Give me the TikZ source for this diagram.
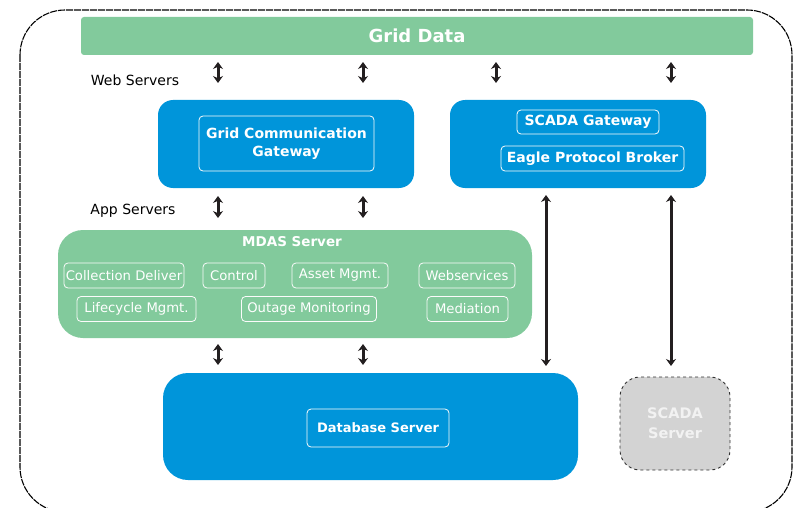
\documentclass[tikz,border=0pt]{standalone}
\usepackage{fontspec}
\setmainfont{DejaVu Sans}
\usetikzlibrary{arrows.meta}

\definecolor{gridgreen}{HTML}{82CA9C}
\definecolor{serverblue}{HTML}{0095DA}
\definecolor{scadagrey}{HTML}{D3D3D3}
\definecolor{arrowblack}{HTML}{231F20}

\tikzset{
    layerbox/.style={rounded corners=15pt, inner sep=0pt},
    innerbox/.style={draw=white!85!black!10, rounded corners=4pt, line width=0.8pt,
        text=white, inner sep=0pt, align=center},
    modbox/.style={innerbox, minimum height=25pt, font=\fontsize{13.2}{15}\selectfont},
    updown/.style={{Stealth[length=7pt,width=10pt]}-{Stealth[length=7pt,width=10pt]},
        line width=3pt, arrowblack},
}

\begin{document}
\begin{tikzpicture}[x=1pt,y=-1pt]
    \useasboundingbox (0,0) rectangle (797,508);

    % outer frame
    \draw[line width=1.1pt, dash pattern=on 7pt off 1pt, rounded corners=45pt]
        (20,10) rectangle (792,512);

    % grid data bar
    \node[fill=gridgreen, rounded corners=3pt, minimum width=672pt, minimum height=38pt,
        text=white, font=\fontsize{18}{20}\selectfont\bfseries] (griddata) at (417,36) {Grid Data};

    \node[font=\fontsize{14}{16}\selectfont] (weblabel) at (135,80) {Web Servers};
    \node[font=\fontsize{14}{16}\selectfont] (applabel) at (133,211) {App Servers};

    % web servers
    \node[layerbox, fill=serverblue, minimum width=256pt, minimum height=88pt] (gcgbox) at (286,144) {};
    \node[layerbox, fill=serverblue, minimum width=256pt, minimum height=88pt] (scadabox) at (578,144) {};

    \node[innerbox, minimum width=175pt, minimum height=55pt, font=\fontsize{14}{18}\selectfont\bfseries]
        (gcg) at (286.5,143.5) {Grid Communication\\Gateway};
    \node[innerbox, minimum width=142pt, minimum height=24pt, font=\fontsize{14}{16}\selectfont\bfseries]
        (scadagw) at (588,122) {SCADA Gateway};
    \node[innerbox, minimum width=183pt, minimum height=25pt, font=\fontsize{14}{16}\selectfont\bfseries]
        (eagle) at (592.5,158.5) {Eagle Protocol Broker};

    % app server
    \node[layerbox, rounded corners=25pt, fill=gridgreen, minimum width=474pt, minimum height=108pt]
        (mdas) at (295,284) {};
    \node[text=white, font=\fontsize{13.5}{15}\selectfont\bfseries] (mdastitle) at (292,242) {MDAS Server};

    \node[modbox, minimum width=120pt] (collect) at (124,275.5) {Collection Deliver};
    \node[modbox, minimum width=62pt] (control) at (234,275.5) {Control};
    \node[modbox, minimum width=96pt] (asset) at (340,275.5) {Asset Mgmt.};
    \node[modbox, minimum width=96pt] (websvc) at (467,275.5) {Webservices};
    \node[modbox, minimum width=119pt] (lifecycle) at (136.5,309) {Lifecycle Mgmt.};
    \node[modbox, minimum width=135pt] (outage) at (309,309) {Outage Monitoring};
    \node[modbox, minimum width=81pt] (mediation) at (467.5,309) {Mediation};

    % database and scada server
    \node[layerbox, rounded corners=25pt, fill=serverblue, minimum width=415pt, minimum height=107pt]
        (dbbox) at (370.5,426.5) {};
    \node[innerbox, minimum width=142pt, minimum height=38pt, font=\fontsize{13}{15}\selectfont\bfseries]
        (db) at (378,428) {Database Server};
    \node[layerbox, rounded corners=20pt, fill=scadagrey, draw=black!80, dashed, line width=0.9pt,
        minimum width=110pt, minimum height=93pt, text=white!95!black, align=center,
        font=\fontsize{14.5}{20}\selectfont\bfseries] (scadasrv) at (675,423.5) {SCADA\\Server};

    % arrows
    \foreach \x [count=\i] in {218,363,496,671} {
        \coordinate (web top \i) at (\x,62);
        \coordinate (web bot \i) at (\x,83);
        \draw[updown] (web top \i) -- (web bot \i);
    }
    \foreach \x [count=\i] in {218,363} {
        \coordinate (app top \i) at (\x,196);
        \coordinate (app bot \i) at (\x,218);
        \coordinate (db top \i) at (\x,344);
        \coordinate (db bot \i) at (\x,365);
        \draw[updown] (app top \i) -- (app bot \i);
        \draw[updown] (db top \i) -- (db bot \i);
    }
    \foreach \x [count=\i] in {546,671} {
        \coordinate (long top \i) at (\x,195);
        \coordinate (long bot \i) at (\x,366);
        \draw[updown] (long top \i) -- (long bot \i);
    }

\end{tikzpicture}
\end{document}
